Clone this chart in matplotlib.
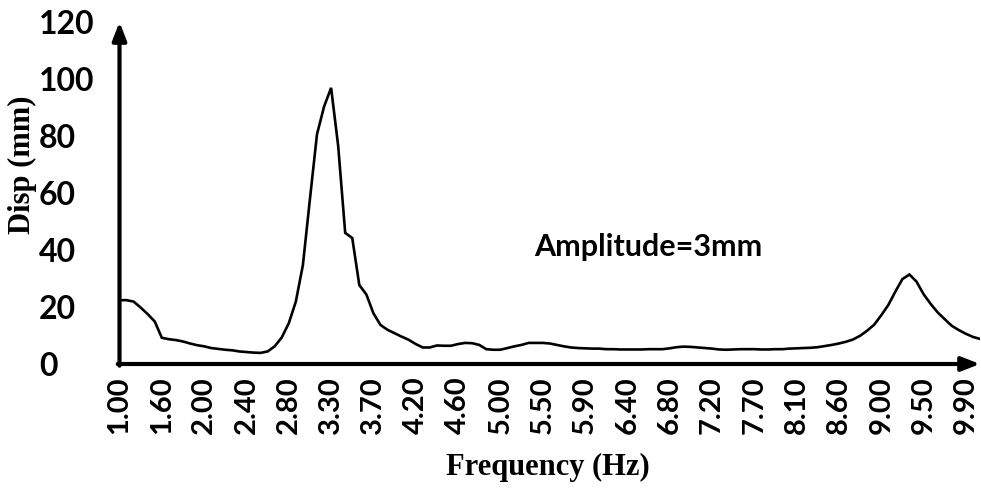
import matplotlib
matplotlib.use("Agg")
import matplotlib.pyplot as plt
import numpy as np

# Tick labels shown every 6th category (Excel category axis)
freq_labels = ["1.00", "1.60", "2.00", "2.40", "2.80", "3.30", "3.70", "4.20", "4.60",
               "5.00", "5.50", "5.90", "6.40", "6.80", "7.20", "7.70", "8.10", "8.60",
               "9.00", "9.50", "9.90"]
label_step = 6

# Displacement (mm) for each category point
disp = [22.4, 22.4, 21.9, 19.8, 17.5, 14.9, 9.2, 8.7, 8.4, 7.9,
        7.2, 6.6, 6.2, 5.6, 5.3, 5.0, 4.8, 4.4, 4.2, 4.0,
        3.9, 4.4, 6.2, 9.3, 14.3, 21.9, 34.7, 57.9, 80.6, 90.3,
        96.9, 76.6, 46.0, 44.2, 27.7, 24.4, 17.8, 13.7, 12.0, 10.8,
        9.6, 8.5, 7.0, 5.8, 5.8, 6.5, 6.4, 6.4, 7.0, 7.4,
        7.3, 6.7, 5.2, 5.0, 5.0, 5.6, 6.2, 6.7, 7.4, 7.4,
        7.4, 7.2, 6.7, 6.2, 5.8, 5.6, 5.5, 5.4, 5.4, 5.2,
        5.2, 5.1, 5.1, 5.1, 5.1, 5.2, 5.2, 5.2, 5.5, 5.9,
        6.1, 6.0, 5.8, 5.6, 5.4, 5.1, 5.0, 5.1, 5.2, 5.2,
        5.2, 5.1, 5.1, 5.2, 5.2, 5.4, 5.5, 5.6, 5.7, 5.9,
        6.3, 6.7, 7.2, 7.8, 8.6, 9.9, 11.7, 13.8, 17.1, 20.7,
        25.4, 29.8, 31.4, 28.9, 24.5, 21.1, 18.1, 15.7, 13.4, 11.9,
        10.6, 9.5, 8.8]

yticks = [0, 20, 40, 60, 80, 100, 120]

W, H = 981, 491
fig = plt.figure(figsize=(W / 100, H / 100), dpi=100)
ax = fig.add_axes([119.5 / W, 1 - 364 / H, (980 - 119.5) / W, (364 - 22) / H])

x = np.arange(len(disp))
ax.plot(x, disp, color="black", lw=1.9, solid_joinstyle="miter")

ax.set_xlim(0, len(disp) - 1)
ax.set_ylim(0, 120)

tick_font = dict(family="Lato", weight="bold")
ax.set_xticks(np.arange(len(freq_labels)) * label_step)
ax.set_xticklabels(freq_labels, rotation=90, fontsize=21, **tick_font)
ax.set_yticks(yticks)
ax.set_yticklabels([str(v) for v in yticks], fontsize=23, **tick_font)
for lbl in ax.get_yticklabels():
    lbl.set_horizontalalignment("left")
ax.tick_params(axis="y", length=0, pad=58)
ax.tick_params(axis="x", length=0, pad=9)

for s in ax.spines.values():
    s.set_visible(False)

arrow = dict(arrowstyle="-|>,head_length=0.9,head_width=0.35", lw=3, color="black",
             shrinkA=0, shrinkB=0, mutation_scale=12)
ax.annotate("", xy=(0, 1.0), xytext=(0, -0.005), xycoords="axes fraction",
            arrowprops=arrow, annotation_clip=False)
ax.annotate("", xy=(1.0, 0), xytext=(-0.002, 0), xycoords="axes fraction",
            arrowprops=arrow, annotation_clip=False)

ax.text(75, 41.2, "Amplitude=3mm", ha="center", va="center", fontsize=22,
        family="Lato", weight="bold")

fig.text(548 / W, 1 - 467 / H, "Frequency (Hz)", ha="center", va="center",
         fontsize=22, family="Liberation Serif", weight="bold")
fig.text(22 / W, 1 - 165 / H, "Disp (mm)", ha="center", va="center", rotation=90,
         fontsize=22, family="Liberation Serif", weight="bold")

fig.savefig("out.png", dpi=100)
